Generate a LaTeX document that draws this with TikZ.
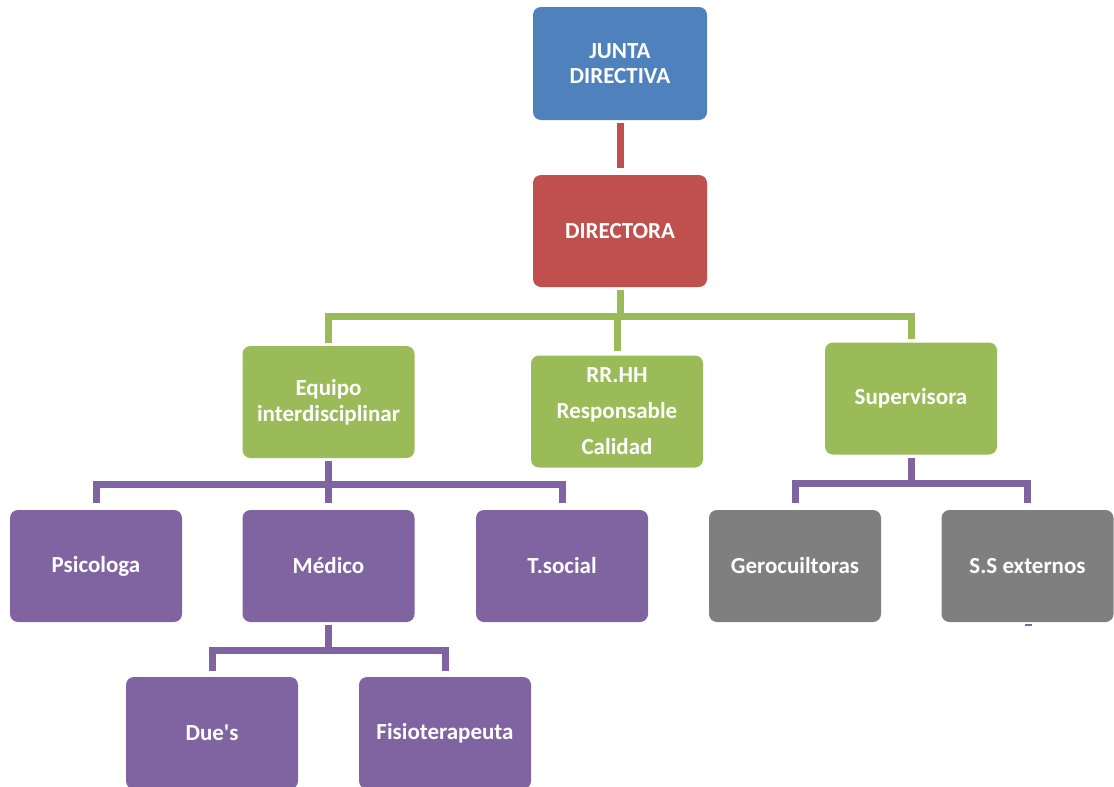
\documentclass[tikz,border=0pt]{standalone}
\usepackage{fontspec}
\setmainfont{Carlito}
\definecolor{cblue}{HTML}{4F81BD}
\definecolor{cred}{HTML}{C0504D}
\definecolor{cgreen}{HTML}{9BBB59}
\definecolor{cpurple}{HTML}{8064A2}
\definecolor{cgray}{HTML}{7F7F7F}
\begin{document}
\begin{tikzpicture}[x=1pt,y=-1pt,
  box/.style={rectangle, rounded corners=8pt, minimum width=172pt, minimum height=112pt,
    text=white, align=center, inner sep=0pt,
    font=\fontsize{23}{25.5}\selectfont\bfseries},
  conn/.style={line width=7pt, line join=miter, line cap=butt},
  rl/.style={conn, draw=cred},
  gl/.style={conn, draw=cgreen},
  pl/.style={conn, draw=cpurple}]
\useasboundingbox (0,0) rectangle (1114,787);
\begin{scope}
\clip (0,0) rectangle (1114,787);
\node[box, fill=cblue, minimum width=174pt, minimum height=113pt] (jd) at (620,63.5) {JUNTA\\DIRECTIVA};
\node[box, fill=cred, minimum width=174pt] (dir) at (620,231) {DIRECTORA};
\node[box, fill=cgreen] (eq) at (328.5,402) {Equipo\\interdisciplinar};
\node[box, fill=cgreen, font=\fontsize{23}{36}\selectfont\bfseries] (rr) at (617,411.5) {RR.HH\\Responsable\\Calidad};
\node[box, fill=cgreen] (sup) at (911,398.5) {Supervisora};
\node[box, fill=cpurple] (psi) at (96,566) {Psicologa};
\node[box, fill=cpurple] (med) at (328.5,566) {Médico};
\node[box, fill=cpurple] (ts) at (562,566) {T.social};
\node[box, fill=cgray] (ger) at (795,566) {Gerocuiltoras};
\node[box, fill=cgray] (ss) at (1027.5,566) {S.S externos};
\node[box, fill=cpurple] (due) at (212,733) {Due\textquotesingle s};
\node[box, fill=cpurple] (fis) at (445,733) {Fisioterapeuta};
\end{scope}
\coordinate (gbar) at (620,316);
\coordinate (pbar) at (328,484);
\coordinate (sbar) at (911,483);
\coordinate (mbar) at (328,650);
% red
\draw[rl] ([yshift=-3pt]jd.south) -- ([yshift=7pt]dir.north);
% green
\draw[gl] ([yshift=-3pt]dir.south) -- (dir.south |- gbar);
\draw[gl] ([yshift=3pt]eq.north) -- (eq.north |- gbar) -- (sup.north |- gbar) -- ([yshift=3pt]sup.north);
\draw[gl] ([yshift=4pt]rr.north) -- (rr.north |- gbar);
% purple under Equipo
\draw[pl] ([yshift=-3pt]eq.south) -- (eq.south |- pbar);
\draw[pl] ([yshift=7pt]psi.north) -- (psi.north |- pbar) -- (ts.north |- pbar) -- ([yshift=7pt]ts.north);
\draw[pl] ([yshift=7pt]med.north) -- (med.north |- pbar);
% purple under Supervisora
\draw[pl] ([yshift=-3pt]sup.south) -- (sup.south |- sbar);
\draw[pl] ([yshift=7pt]ger.north) -- (ger.north |- sbar) -- (ss.north |- sbar) -- ([yshift=7pt]ss.north);
% purple under Medico
\draw[pl] ([yshift=-3pt]med.south) -- (med.south |- mbar);
\draw[pl] ([yshift=6pt]due.north) -- (due.north |- mbar) -- (fis.north |- mbar) -- ([yshift=6pt]fis.north);
% small stub under S.S externos
\draw[cpurple, line width=2pt] ([xshift=-3pt,yshift=-3pt]ss.south) -- ([xshift=4pt,yshift=-3pt]ss.south);
\end{tikzpicture}
\end{document}
